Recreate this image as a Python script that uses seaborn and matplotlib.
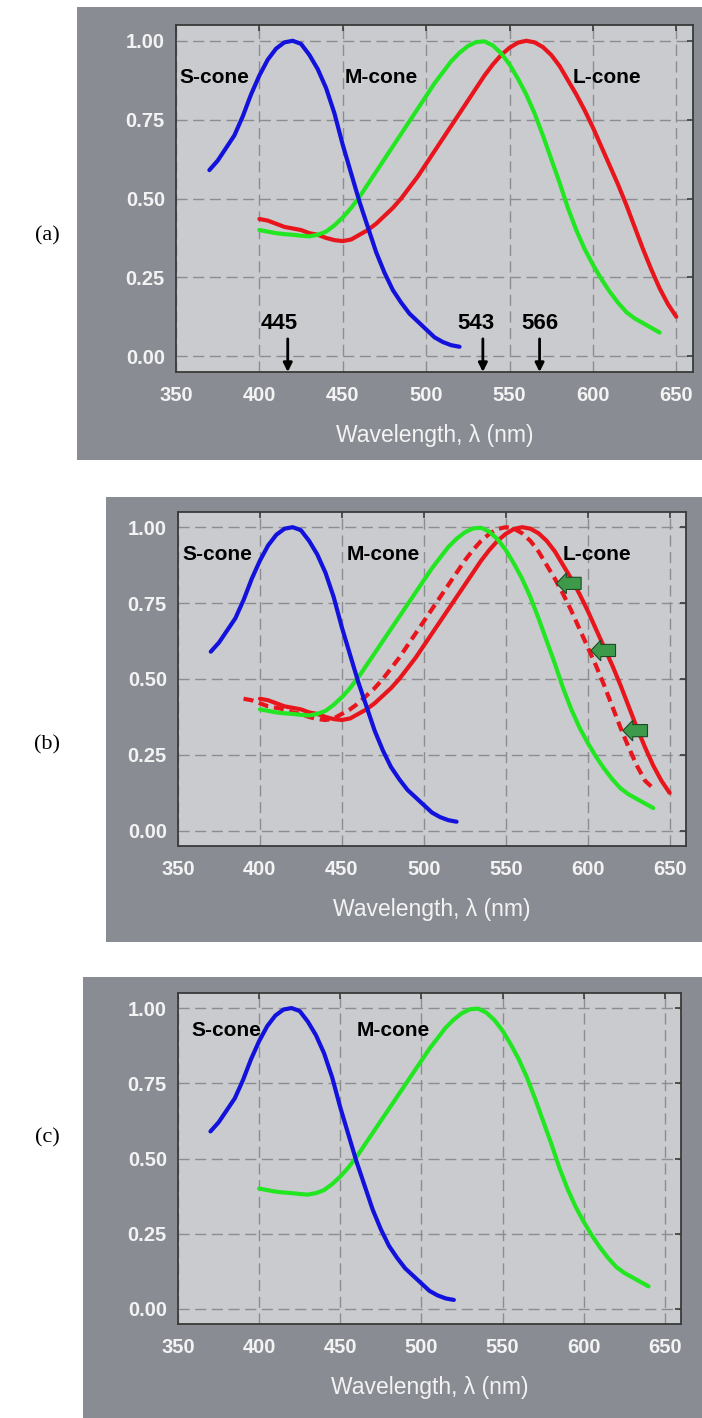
import numpy as np
import pandas as pd
import matplotlib
matplotlib.use("Agg")
import matplotlib.pyplot as plt
import seaborn as sns
from matplotlib.patches import Rectangle, FancyArrow

# ---- cone sensitivity data (normalised) ----
wl_s = [370, 375, 380, 385, 390, 395, 400, 405, 410, 415, 420, 425, 430, 435, 440,
        445, 450, 455, 460, 465, 470, 475, 480, 485, 490, 495, 500, 505, 510, 515, 520]
s_cone = [0.59, 0.62, 0.66, 0.70, 0.76, 0.83, 0.89, 0.94, 0.975, 0.995, 1.00, 0.99, 0.955,
          0.91, 0.85, 0.77, 0.67, 0.58, 0.49, 0.41, 0.33, 0.265, 0.21, 0.17, 0.135, 0.11,
          0.085, 0.06, 0.045, 0.035, 0.03]

wl_m = [400, 405, 410, 415, 420, 425, 430, 435, 440, 445, 450, 455, 460, 465, 470, 475,
        480, 485, 490, 495, 500, 505, 510, 515, 520, 525, 530, 535, 540, 545, 550, 555,
        560, 565, 570, 575, 580, 585, 590, 595, 600, 605, 610, 615, 620, 625, 630, 635, 640]
m_cone = [0.40, 0.395, 0.39, 0.387, 0.385, 0.382, 0.38, 0.385, 0.395, 0.415, 0.44, 0.47,
          0.505, 0.545, 0.585, 0.625, 0.665, 0.705, 0.745, 0.785, 0.825, 0.865, 0.90,
          0.935, 0.962, 0.983, 0.996, 0.998, 0.985, 0.96, 0.925, 0.88, 0.83, 0.77, 0.70,
          0.625, 0.55, 0.47, 0.40, 0.34, 0.29, 0.245, 0.205, 0.17, 0.14, 0.12, 0.105,
          0.09, 0.075]

wl_l = [400, 405, 410, 415, 420, 425, 430, 435, 440, 445, 450, 455, 460, 465, 470, 475,
        480, 485, 490, 495, 500, 505, 510, 515, 520, 525, 530, 535, 540, 545, 550, 555,
        560, 565, 570, 575, 580, 585, 590, 595, 600, 605, 610, 615, 620, 625, 630, 635,
        640, 645, 650]
l_cone = [0.435, 0.43, 0.42, 0.41, 0.405, 0.40, 0.39, 0.385, 0.375, 0.368, 0.365, 0.37,
          0.385, 0.40, 0.42, 0.445, 0.47, 0.50, 0.535, 0.57, 0.61, 0.65, 0.69, 0.73, 0.77,
          0.81, 0.85, 0.89, 0.925, 0.955, 0.978, 0.994, 1.00, 0.995, 0.98, 0.955, 0.92,
          0.875, 0.83, 0.78, 0.725, 0.665, 0.605, 0.545, 0.48, 0.41, 0.34, 0.275, 0.215,
          0.165, 0.125]

# shifted L-cone (dashed curve in panel b)
wl_l2 = [390, 395, 400, 405, 410, 415, 420, 425, 430, 435, 440, 445, 450, 455, 460, 465,
         470, 475, 480, 485, 490, 495, 500, 505, 510, 515, 520, 525, 530, 535, 540, 545,
         550, 555, 560, 565, 570, 575, 580, 585, 590, 595, 600, 605, 610, 615, 620, 625,
         630, 635, 640]
l_cone2 = [0.435, 0.43, 0.42, 0.41, 0.405, 0.40, 0.39, 0.385, 0.375, 0.368, 0.365, 0.37,
           0.385, 0.40, 0.42, 0.445, 0.47, 0.50, 0.535, 0.57, 0.61, 0.65, 0.69, 0.73, 0.77,
           0.81, 0.85, 0.89, 0.925, 0.955, 0.978, 0.994, 1.00, 0.995, 0.98, 0.955, 0.92,
           0.875, 0.83, 0.78, 0.725, 0.665, 0.605, 0.545, 0.48, 0.41, 0.34, 0.275, 0.215,
           0.165, 0.14]

x_ticks = [350, 400, 450, 500, 550, 600, 650]
y_ticks = [0.00, 0.25, 0.50, 0.75, 1.00]
x_label = "Wavelength, λ (nm)"

peak_marks = ["445", "543", "566"]
peak_arrow_x = [417, 534, 568]
peak_text_x = [412, 530, 568]

shift_arrow_x = [596, 617, 636.5]
shift_arrow_y = [0.815, 0.594, 0.33]

# ---- style ----
sns.set_theme(style="white")
plt.rcParams["font.family"] = ["Liberation Sans", "DejaVu Sans"]

BOX = "#898c93"
FACE = "#c9cbce"
GRID = "#8c8d90"
SPINE = "#3a3a3a"
BLUE = "#1212dc"
GREEN = "#22e622"
RED = "#e8161c"
TXT = "#f3f3f3"

W, H = 702, 1418
fig = plt.figure(figsize=(W / 100, H / 100), dpi=100)
fig.patch.set_facecolor("white")


def frac(x0, y0, x1, y1):
    return [x0 / W, 1 - y1 / H, (x1 - x0) / W, (y1 - y0) / H]


def add_box(x0, y0, x1, y1):
    fig.patches.append(Rectangle((x0 / W, 1 - y1 / H), (x1 - x0) / W, (y1 - y0) / H,
                                 transform=fig.transFigure, facecolor=BOX,
                                 edgecolor="none", zorder=-10))


def curve(ax, x, y, color, dashed=False):
    df = pd.DataFrame({"wl": x, "v": y})
    sns.lineplot(data=df, x="wl", y="v", ax=ax, color=color, lw=3.0,
                 estimator=None, sort=False, zorder=3)
    line = ax.lines[-1]
    line.set_solid_capstyle("round")
    line.set_dash_capstyle("butt")
    if dashed:
        line.set_linestyle((0, (2.4, 1.4)))


def setup(ax):
    ax.set_facecolor(FACE)
    ax.set_xlim(350, 660)
    ax.set_ylim(-0.05, 1.05)
    ax.set_xticks(x_ticks)
    ax.set_xticklabels([str(v) for v in x_ticks])
    ax.set_yticks(y_ticks)
    ax.set_yticklabels([f"{v:.2f}" for v in y_ticks])
    ax.grid(True, color=GRID, lw=1.0, linestyle=(0, (8, 4)), zorder=1)
    ax.set_axisbelow(True)
    for s in ax.spines.values():
        s.set_color(SPINE)
        s.set_linewidth(1.3)
        s.set_visible(True)
    ax.tick_params(axis="both", direction="in", length=4, width=1.2, color=SPINE,
                   top=True, right=True, labelsize=14.5, labelcolor=TXT)
    ax.tick_params(axis="x", pad=10)
    ax.tick_params(axis="y", pad=8)
    for t in ax.get_xticklabels() + ax.get_yticklabels():
        t.set_fontweight("bold")


def finish(ax):
    ax.set_xlabel(x_label, fontsize=16.5, color=TXT, labelpad=14)
    ax.set_ylabel("")


def cone_text(ax, x, y, s):
    ax.text(x, y, s, fontsize=15, fontweight="bold", color="black",
            ha="left", va="center", zorder=5)


# outer grey boxes
add_box(77, 7, 702, 460)
add_box(106, 497, 702, 942)
add_box(83, 977, 702, 1418)

# ---- panel (a) ----
ax_a = fig.add_axes(frac(176, 25, 693, 372))
setup(ax_a)
curve(ax_a, wl_l, l_cone, RED)
curve(ax_a, wl_m, m_cone, GREEN)
curve(ax_a, wl_s, s_cone, BLUE)
finish(ax_a)
cone_text(ax_a, 352, 0.883, "S-cone")
cone_text(ax_a, 451, 0.883, "M-cone")
cone_text(ax_a, 588, 0.883, "L-cone")
for lab, ax_x, tx in zip(peak_marks, peak_arrow_x, peak_text_x):
    ax_a.annotate("", xy=(ax_x, -0.05), xytext=(ax_x, 0.055),
                  arrowprops=dict(arrowstyle="-|>", color="black", lw=2.0,
                                  mutation_scale=13, shrinkA=0, shrinkB=0), zorder=6)
    ax_a.text(tx, 0.105, lab, fontsize=16, fontweight="bold", color="black",
              ha="center", va="center", zorder=6)

# ---- panel (b) ----
ax_b = fig.add_axes(frac(178, 512, 686, 846))
setup(ax_b)
curve(ax_b, wl_l2, l_cone2, RED, dashed=True)
curve(ax_b, wl_l, l_cone, RED)
curve(ax_b, wl_m, m_cone, GREEN)
curve(ax_b, wl_s, s_cone, BLUE)
finish(ax_b)
cone_text(ax_b, 353, 0.91, "S-cone")
cone_text(ax_b, 453, 0.91, "M-cone")
cone_text(ax_b, 585, 0.91, "L-cone")
for xr, yc in zip(shift_arrow_x, shift_arrow_y):
    ax_b.add_patch(FancyArrow(xr, yc, -15, 0, width=0.04, head_width=0.068,
                              head_length=6, length_includes_head=True,
                              facecolor="#3d9a4a", edgecolor="#1d4a24", lw=0.8,
                              zorder=6))

# ---- panel (c) ----
ax_c = fig.add_axes(frac(178, 993, 681, 1324))
setup(ax_c)
curve(ax_c, wl_m, m_cone, GREEN)
curve(ax_c, wl_s, s_cone, BLUE)
finish(ax_c)
cone_text(ax_c, 358, 0.926, "S-cone")
cone_text(ax_c, 460, 0.926, "M-cone")

# panel letters
for lab, ypx in zip(["(a)", "(b)", "(c)"], [236, 745, 1138]):
    fig.text(47 / W, 1 - ypx / H, lab, fontsize=16, color="black",
             family=["Liberation Serif", "DejaVu Serif"], ha="center", va="center")

fig.savefig("out.png", dpi=100, facecolor="white")
